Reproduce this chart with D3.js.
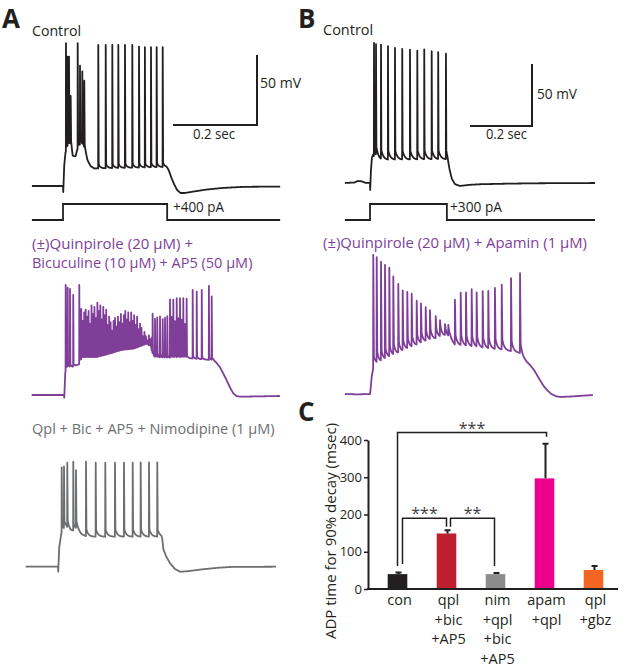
<!DOCTYPE html>
<html><head><meta charset="utf-8">
<script src="https://cdn.jsdelivr.net/npm/d3@7"></script>
<style>body{margin:0;background:#fff}svg{display:block}text{font-family:"Open Sans",sans-serif}</style>
</head><body>
<script>
// ---------------- DATA ----------------
// Traces: background (membrane level between spikes) [ms, mV] and spikes [ms, peak mV]
const ctrlA_bg = [[-74,-70],[0,-70],[0.6,-74.3],[3,-55],[6,-46],[12,-42],[19,-42],[23,-50],[30,-49],[34,-44],[44,-40],[51,-44],[58,-52],[66,-56],[75,-57.5],[246,-56.5],[248,-57],[252,-59],[258,-64],[265,-69],[272,-73],[280,-75],[290,-75],[310,-74],[340,-72.6],[380,-71.4],[430,-70.6],[517,-70.4]];
const ctrlA_spikes = [[7.1,32],[11.2,21],[14.3,20],[18.3,-8],[35,32],[40.5,15],[46,10.7],[50.7,3.6],[84,30.7],[101.7,30.7],[117.4,30.7],[131.7,30.7],[147.6,30.7],[165,30.7],[181,29.5],[195,29],[209.5,29],[223,29],[237.4,29]];
const ctrlA_current = [[-74,0],[0,0],[0,400],[248,400],[248,0],[517,0]];

const purA_bg = [[-77,-70],[0,-70],[0.6,-72],[3,-54],[8,-50],[20,-50],[36,-48],[42,-44],[79,-44],[110,-41.5],[137,-39],[167,-38],[197,-34.5],[207,-36],[211,-43],[246,-43.6],[292,-43.6],[350,-45],[355.5,-45],[363,-47],[371,-50],[379,-54.5],[387,-59.3],[395,-64.5],[403,-68.8],[411,-70.8],[419,-71.2],[460,-71],[514,-70.7]];
const purA_spikes = [[4,8.6],[8.8,6.2],[14.3,5.5],[22,1.4],[36.4,8.6],
 [41,-9],[44.5,-18],[48,-12],[51.5,-10],[55,-15],[58.5,-11],[62,-20],[65.5,-7],[69,-13],[72.5,-8],[76,-16],[79.5,-5],[83,-11],[86.5,-7],[90,-17],[93.5,-8],[97,-14],[100.5,-10],[104,-21],[107.5,-15],[111,-19],[114.5,-25],[118,-18],[121.5,-16],[125,-22],[128.5,-15],[132,-19],[135.5,-13],[139,-20],[142.5,-14],[146,-11],[149.5,-17],[153,-12],[156.5,-19],[160,-12],[163.5,-18],[167,-14],[170.5,-21],[174,-15],[177.5,-24],[181,-20],[184.5,-23],[188,-29],[191.5,-26],[195,-29],[198.5,-32],[202,-28],[205.5,-31],[209,-30],
 [211,-14],[216.7,-16],[222,-15],[228.6,-14],[235,-16],[240.5,-15],[246,-14],
 [252.4,-2],[256,-15],[260.2,-2.5],[264,-18],[268.3,-1.5],[272,-16],[276.2,-1.5],[280,-17],[284,-1.5],[288,-20],[292,-2],
 [306.4,5],[316,3.8],[328,5],[345,7.9],[351.7,0.2]];

const grayA_bg = [[-77,-70],[0,-70],[0.6,-73.5],[3,-56],[8,-46],[20,-43],[30,-45],[45,-44],[55,-47],[70,-48.6],[246,-48.6],[248,-50],[251,-58],[258,-63],[267,-67.6],[278,-71.5],[290.5,-73.6],[310,-73.2],[340,-72],[380,-70.8],[410,-70.2],[519,-70]];
const grayA_spikes = [[8.8,1],[14.3,-0.4],[22.1,2.6],[36.4,4.6],[42.9,-2.9],[66.7,5],[89.8,4.3],[112.6,4.3],[135.7,4.3],[157.1,4.3],[177.9,4.3],[196.9,4.3],[216.7,4.3],[236.4,4.3]];

const ctrlB_bg = [[-81,-70],[-50,-69.6],[-40,-68.4],[-28,-68.6],[-15,-69.8],[0,-70],[0.6,-75.6],[3,-60],[6,-50],[10,-47],[16,-50],[30,-51.5],[246,-51],[250,-53],[256,-60],[264,-67],[274,-71],[290,-72.4],[320,-71.5],[355,-71],[450,-70.5],[550,-70.2],[726,-70]];
const ctrlB_spikes = [[12.9,43],[19.4,38.6],[35.5,40.5],[58,40],[80.6,38.6],[104,37.8],[129,37.3],[152.6,36.5],[175,37.3],[199,36],[220,35],[245,34]];
const ctrlB_current = [[-81,0],[0,0],[0,300],[248,300],[248,0],[726,0]];

const purB_bg = [[-81,-70],[-40,-70.3],[0,-70],[2,-66],[6,-54.7],[12,-48],[16,-46.6],[60,-41],[120,-34],[180,-28],[242,-23.2],[250,-24],[258,-25],[266,-28],[274,-30.5],[330,-32],[380,-33.5],[435,-34.5],[484,-37],[494,-41],[505,-44],[516,-46.6],[530,-51],[548,-58.7],[560,-63.5],[571,-66.8],[585,-70],[600,-71.8],[613,-72.4],[650,-72],[690,-71.3],[719,-70.8]];
const purB_spikes = [[10.6,42.1],[21.6,38.6],[35.5,35.4],[48.4,32.7],[62.3,30.6],[75.2,23.3],[91.3,17.9],[105.5,12.5],[120.3,11.2],[134.5,9.8],[150.6,4.4],[164.5,1.8],[179.7,-0.9],[193.5,-3.6],[212,-7.7],[225.8,-11.7],[242,-14.4],[252.6,-15.7],[274,5.8],[292.6,11.2],[309.7,11.2],[328,13.9],[344,11.2],[363.5,12.5],[381.6,12.5],[403,15.2],[425,17.9],[455,23.3],[484,27.3]];

// Panel C bar chart
const categories = ["con","qpl+bic+AP5","nim+qpl+bic+AP5","apam+qpl","qpl+gbz"];
const categoryLines = [["con"],["qpl","+bic","+AP5"],["nim","+qpl","+bic","+AP5"],["apam","+qpl"],["qpl","+gbz"]];
const adpMeans = [40,149,40,297,51];
const adpErrors = [4,9,3,93,11];
const barColors = ["#231f20","#be1e2d","#8c8c8e","#ec008c","#f26522"];
const yTicks = [0,100,200,300,400];
const sigBrackets = [
  {from:0,to:3,label:"***",level:420,leftEnd:62,rightEnd:409},
  {from:0,to:1,label:"***",level:190,leftEnd:67,rightEnd:167},
  {from:1,to:2,label:"**",level:190,leftEnd:167,rightEnd:62}
];

// ---------------- DRAW ----------------
const svg = d3.select("body").append("svg").attr("width",624).attr("height",672);
const BLACK = "#231f20", PURPLE = "#7f3f98", GRAY = "#6d6e71";

function label(x, y, str, size, width, o = {}) {
  const t = svg.append("text").attr("x",x).attr("y",y).attr("font-size",size)
    .attr("fill",o.fill||BLACK).text(str);
  if (o.anchor) t.attr("text-anchor",o.anchor);
  if (o.weight) t.attr("font-weight",o.weight);
  if (o.family) t.attr("font-family",o.family);
  if (o.transform) t.attr("transform",o.transform);
  if (width) {
    const w = t.node().getComputedTextLength();
    if (Math.abs(w-width)/width > 0.02) t.attr("textLength",width).attr("lengthAdjust","spacingAndGlyphs");
  }
  return t;
}

function trace(bg, spikes, o) {
  const xs = d3.scaleLinear().domain([0,100]).range([o.x0, o.x0 + 100*o.kx]);
  const ys = d3.scaleLinear().domain([-70,-20]).range([o.y0, o.y0 - 50*o.ky]);
  const bT = bg.map(d=>d[0]), bV = bg.map(d=>d[1]);
  const bgAt = t => {
    const i = d3.bisectRight(bT, t);
    if (i <= 0) return bV[0];
    if (i >= bT.length) return bV[bV.length-1];
    const a = bT[i-1], b = bT[i];
    return bV[i-1] + (bV[i]-bV[i-1])*(t-a)/(b-a);
  };
  const t0 = bT[0], t1 = bT[bT.length-1];
  const times = d3.range(t0, t1, 0.2);
  spikes.forEach(s => times.push(s[0]-o.rise, s[0], s[0]+o.fall));
  bT.forEach(t => times.push(t));
  times.push(t1);
  times.sort((a,b)=>a-b);
  const amps = spikes.map(s => s[1]-bgAt(s[0]));
  const pts = times.filter(t=>t>=t0 && t<=t1).map(t => {
    let v = bgAt(t);
    spikes.forEach((s,i) => {
      const dt = t - s[0], A = amps[i], adp = Math.min(o.adp, 0.6*A);
      if (dt < -o.rise || dt > o.fall + 8*o.tau) return;
      if (dt < 0) v += A*(1 + dt/o.rise);
      else if (dt < o.fall) v += A + (adp - A)*dt/o.fall;
      else v += adp*Math.exp(-(dt-o.fall)/o.tau);
    });
    return [t, v];
  });
  svg.append("path").datum(pts)
    .attr("d", d3.line().x(d=>xs(d[0])).y(d=>ys(d[1])))
    .attr("fill","none").attr("stroke",o.color).attr("stroke-width",o.width||1.8)
    .attr("stroke-linejoin","round");
  return {xs, ys};
}

function currentTrace(data, xs, yBase, amp) {
  const yc = d3.scaleLinear().domain([0, amp]).range([yBase, yBase-16]);
  svg.append("path").datum(data)
    .attr("d", d3.line().x(d=>xs(d[0])).y(d=>yc(d[1])))
    .attr("fill","none").attr("stroke",BLACK).attr("stroke-width",1.8);
}

function scaleBar(xs, ys, xRight, yBottom) {
  const w = xs(200)-xs(0), h = ys(-70)-ys(-20);
  svg.append("path").attr("d",`M${xRight-w},${yBottom}H${xRight}V${yBottom-h}`)
    .attr("fill","none").attr("stroke",BLACK).attr("stroke-width",2);
}

const PANEL_FONT = "'Liberation Sans',Arial,sans-serif";

// ---- Panel A ----
label(2, 28, "A", 26, null, {weight:"bold", family:PANEL_FONT});
label(32, 36, "Control", 14.5, 49);
const cA = trace(ctrlA_bg, ctrlA_spikes, {x0:63,y0:186,kx:0.42,ky:1.4,color:BLACK,rise:0.3,fall:1.0,adp:3,tau:4});
currentTrace(ctrlA_current, cA.xs, 220, 400);
scaleBar(cA.xs, cA.ys, 257, 125);
label(260, 88, "50 mV", 14.5, 41);
label(193, 139, "0.2 sec", 14.5, 42);
label(173, 212, "+400 pA", 14.5, 51);

label(32, 249, "(±)Quinpirole (20 μM) +", 14.5, 161, {fill:PURPLE});
label(32, 268, "Bicuculine (10 μM) + AP5 (50 μM)", 14.5, 221, {fill:PURPLE});
trace(purA_bg, purA_spikes, {x0:64,y0:395,kx:0.42,ky:1.4,color:PURPLE,rise:0.3,fall:0.9,adp:3,tau:2});

label(32, 434, "Qpl + Bic + AP5 + Nimodipine (1 μM)", 14.5, 247, {fill:GRAY});
trace(grayA_bg, grayA_spikes, {x0:58,y0:566.7,kx:0.42,ky:1.4,color:GRAY,rise:0.3,fall:1.0,adp:5,tau:5});

// ---- Panel B ----
label(298, 28, "B", 26, null, {weight:"bold", family:PANEL_FONT});
label(323, 35, "Control", 14.5, 50);
const cB = trace(ctrlB_bg, ctrlB_spikes, {x0:370,y0:183,kx:0.31,ky:1.24,color:BLACK,rise:0.4,fall:1.2,adp:7,tau:7});
currentTrace(ctrlB_current, cB.xs, 220, 300);
scaleBar(cB.xs, cB.ys, 532, 126);
label(537, 99, "50 mV", 14.5, 40);
label(486, 139, "0.2 sec", 14.5, 41);
label(450, 212, "+300 pA", 14.5, 52);

label(323, 248, "(±)Quinpirole (20 μM) + Apamin (1 μM)", 14.5, 264, {fill:PURPLE});
trace(purB_bg, purB_spikes, {x0:370,y0:394,kx:0.31,ky:1.24,color:PURPLE,rise:0.5,fall:2.0,adp:8,tau:6});

// ---- Panel C ----
label(298, 421, "C", 26, null, {weight:"bold", family:PANEL_FONT});
const x = d3.scaleBand().domain(categories).range([373,618]).paddingInner(0.6).paddingOuter(0.3);
const y = d3.scaleLinear().domain([0,400]).range([589,440]);
const gC = svg.append("g");

gC.selectAll("rect.bar").data(categories).join("rect").attr("class","bar")
  .attr("x",d=>x(d)).attr("width",x.bandwidth())
  .attr("y",(d,i)=>y(adpMeans[i])).attr("height",(d,i)=>y(0)-y(adpMeans[i]))
  .attr("fill",(d,i)=>barColors[i]);

// error bars
categories.forEach((c,i) => {
  const cx = x(c) + x.bandwidth()/2 + 1;
  gC.append("path").attr("d",`M${cx},${y(adpMeans[i])}V${y(adpMeans[i]+adpErrors[i])}M${cx-3},${y(adpMeans[i]+adpErrors[i])}H${cx+3}`)
    .attr("stroke",BLACK).attr("stroke-width",2).attr("fill","none");
});

// axes
const yAxis = gC.append("g").attr("transform","translate(368,0)")
  .call(d3.axisLeft(y).tickValues(yTicks).tickSize(4).tickSizeOuter(0).tickPadding(2));
yAxis.attr("font-family",null).attr("font-size",null);
yAxis.select(".domain").attr("stroke",BLACK).attr("stroke-width",2);
yAxis.selectAll(".tick line").attr("stroke",BLACK).attr("stroke-width",1.5);
yAxis.selectAll(".tick text").attr("font-size",13).attr("fill",BLACK);
gC.append("line").attr("x1",367).attr("x2",618).attr("y1",y(0)).attr("y2",y(0))
  .attr("stroke",BLACK).attr("stroke-width",2);

// category labels
categories.forEach((c,i) => {
  const cx = x(c) + x.bandwidth()/2 + 2;
  categoryLines[i].forEach((ln,j) => {
    gC.append("text").attr("x",cx).attr("y",605 + j*19.7).attr("text-anchor","middle")
      .attr("font-size",14.5).attr("fill",BLACK).text(ln);
  });
});

// y label
label(0, 0, "ADP time for 90% decay (msec)", 15, 218, {anchor:"middle", transform:"translate(336,531) rotate(-90)"});

// significance brackets
const legOffsets = [[0,2],[5,0],[4,-1]];
sigBrackets.forEach((b,k) => {
  const xa = x(categories[b.from]) + x.bandwidth()/2 + legOffsets[k][0];
  const xb = x(categories[b.to]) + x.bandwidth()/2 + legOffsets[k][1];
  gC.append("path").attr("d",`M${xa},${y(b.leftEnd)}V${y(b.level)}H${xb}V${y(b.rightEnd)}`)
    .attr("fill","none").attr("stroke",BLACK).attr("stroke-width",1.5);
  gC.append("text").attr("x",(xa+xb)/2).attr("y",y(b.level)+1).attr("text-anchor","middle")
    .attr("font-size",16).attr("fill","#414042").text(b.label);
});
</script>
</body></html>
